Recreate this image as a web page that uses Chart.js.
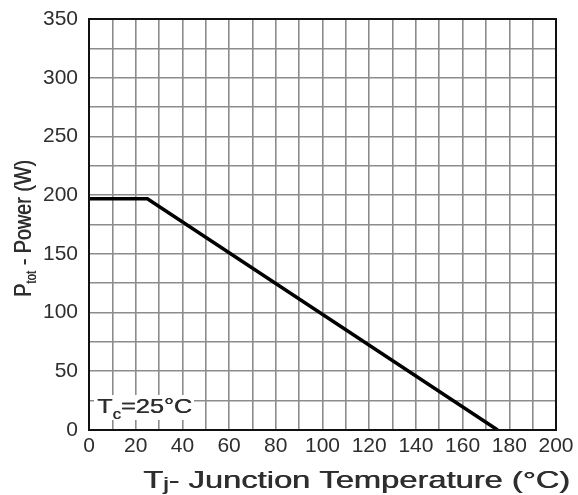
<!DOCTYPE html>
<html>
<head>
<meta charset="utf-8">
<script src="https://cdn.jsdelivr.net/npm/chart.js@4"></script>
<style>
  html, body { margin: 0; padding: 0; background: #fff; }
  #wrap { width: 578px; height: 495px; }
</style>
</head>
<body>
<div id="wrap"><canvas id="my-chart"></canvas></div>
<script>
// DATA
const tempC = [0, 25, 175];
const powerW = [197, 197, 0];
const xTicks = [0, 20, 40, 60, 80, 100, 120, 140, 160, 180, 200];
const yTicks = [0, 50, 100, 150, 200, 250, 300, 350];

const FONT = '"Liberation Sans", Arial, sans-serif';
const TXT = '#2e2e2e';

// DRAW A ROW OF TEXT PIECES (with sub offsets) FITTED TO A GIVEN WIDTH
function drawPieces(ctx, pieces, x, y, width) {
	let total = 0;
	pieces.forEach(p => { ctx.font = p.size + 'px ' + FONT; p.w = ctx.measureText(p.t).width; total += p.w; });
	let k = width ? width / total : 1;
	ctx.save();
	ctx.translate(x, y);
	ctx.scale(k, 1);
	let cx = 0;
	pieces.forEach(p => {
		ctx.font = p.size + 'px ' + FONT;
		ctx.fillText(p.t, cx, p.dy || 0);
		// a hair of extra ink, the source is a blurry scan
		ctx.fillText(p.t, cx + 0.5, p.dy || 0);
		cx += p.w;
	});
	ctx.restore();
}

// DRAW TITLES, ANNOTATION AND FRAME
const extras = {
	id: 'extras',
	beforeDatasetsDraw(chart) {
		const ctx = chart.ctx;
		ctx.save();
		ctx.fillStyle = '#fff';
		ctx.fillRect(94, 395, 100, 25);
		ctx.fillStyle = TXT;
		ctx.textBaseline = 'alphabetic';
		drawPieces(ctx, [
			{ t: 'T', size: 21 },
			{ t: 'c', size: 14, dy: 6 },
			{ t: '=25°C', size: 21 }
		], 97, 413, 95);
		ctx.restore();
	},
	afterDraw(chart) {
		const ctx = chart.ctx;
		const a = chart.chartArea;
		ctx.save();
		ctx.strokeStyle = '#111';
		ctx.lineWidth = 2;
		ctx.strokeRect(a.left, a.top, a.right - a.left, a.bottom - a.top);
		ctx.restore();

		// y title
		ctx.save();
		ctx.fillStyle = TXT;
		ctx.translate(31, 297);
		ctx.rotate(-Math.PI / 2);
		drawPieces(ctx, [
			{ t: 'P', size: 24 },
			{ t: 'tot', size: 14, dy: 5 },
			{ t: ' - Power (W)', size: 24 }
		], 0, 0, 137);
		ctx.restore();

		// x title
		ctx.save();
		ctx.fillStyle = TXT;
		drawPieces(ctx, [
			{ t: 'T', size: 24 },
			{ t: 'j', size: 18, dy: 2 },
			{ t: '- Junction Temperature (°C)', size: 24 }
		], 143, 488, 427);
		ctx.restore();
	}
};

const ctx = document.getElementById('my-chart');
new Chart(ctx, {
	type: 'scatter',
	data: {
		datasets: [{
			data: tempC.map((t, i) => ({ x: t, y: powerW[i] })),
			showLine: true,
			borderColor: '#000',
			borderWidth: 3.5,
			pointRadius: 0,
			tension: 0
		}]
	},
	options: {
		responsive: true,
		maintainAspectRatio: false,
		animation: false,
		layout: { padding: { top: 19, right: 22, left: 0, bottom: 0 } },
		plugins: { legend: { display: false }, tooltip: { enabled: false } },
		scales: {
			x: {
				type: 'linear',
				min: 0, max: 200,
				afterFit: s => { s.height = 65; s.paddingLeft = 0; s.paddingRight = 0; },
				grid: { color: '#8c8c8c', lineWidth: 1.6, drawTicks: false },
				border: { color: '#111', width: 2 },
				ticks: {
					stepSize: 10,
					autoSkip: false,
					maxRotation: 0,
					padding: 4,
					color: TXT,
					font: { family: FONT, size: 21 },
					callback: v => xTicks.includes(v) ? String(v) : ''
				}
			},
			y: {
				min: 0, max: 350,
				afterFit: s => { s.width = 89; s.paddingTop = 0; s.paddingBottom = 0; },
				grid: { color: '#8c8c8c', lineWidth: 1.6, drawTicks: false },
				border: { color: '#111', width: 2 },
				ticks: {
					stepSize: 25,
					autoSkip: false,
					padding: 11,
					color: TXT,
					font: { family: FONT, size: 21 },
					callback: v => yTicks.includes(v) ? String(v) : ''
				}
			}
		}
	},
	plugins: [extras]
});
</script>
</body>
</html>
